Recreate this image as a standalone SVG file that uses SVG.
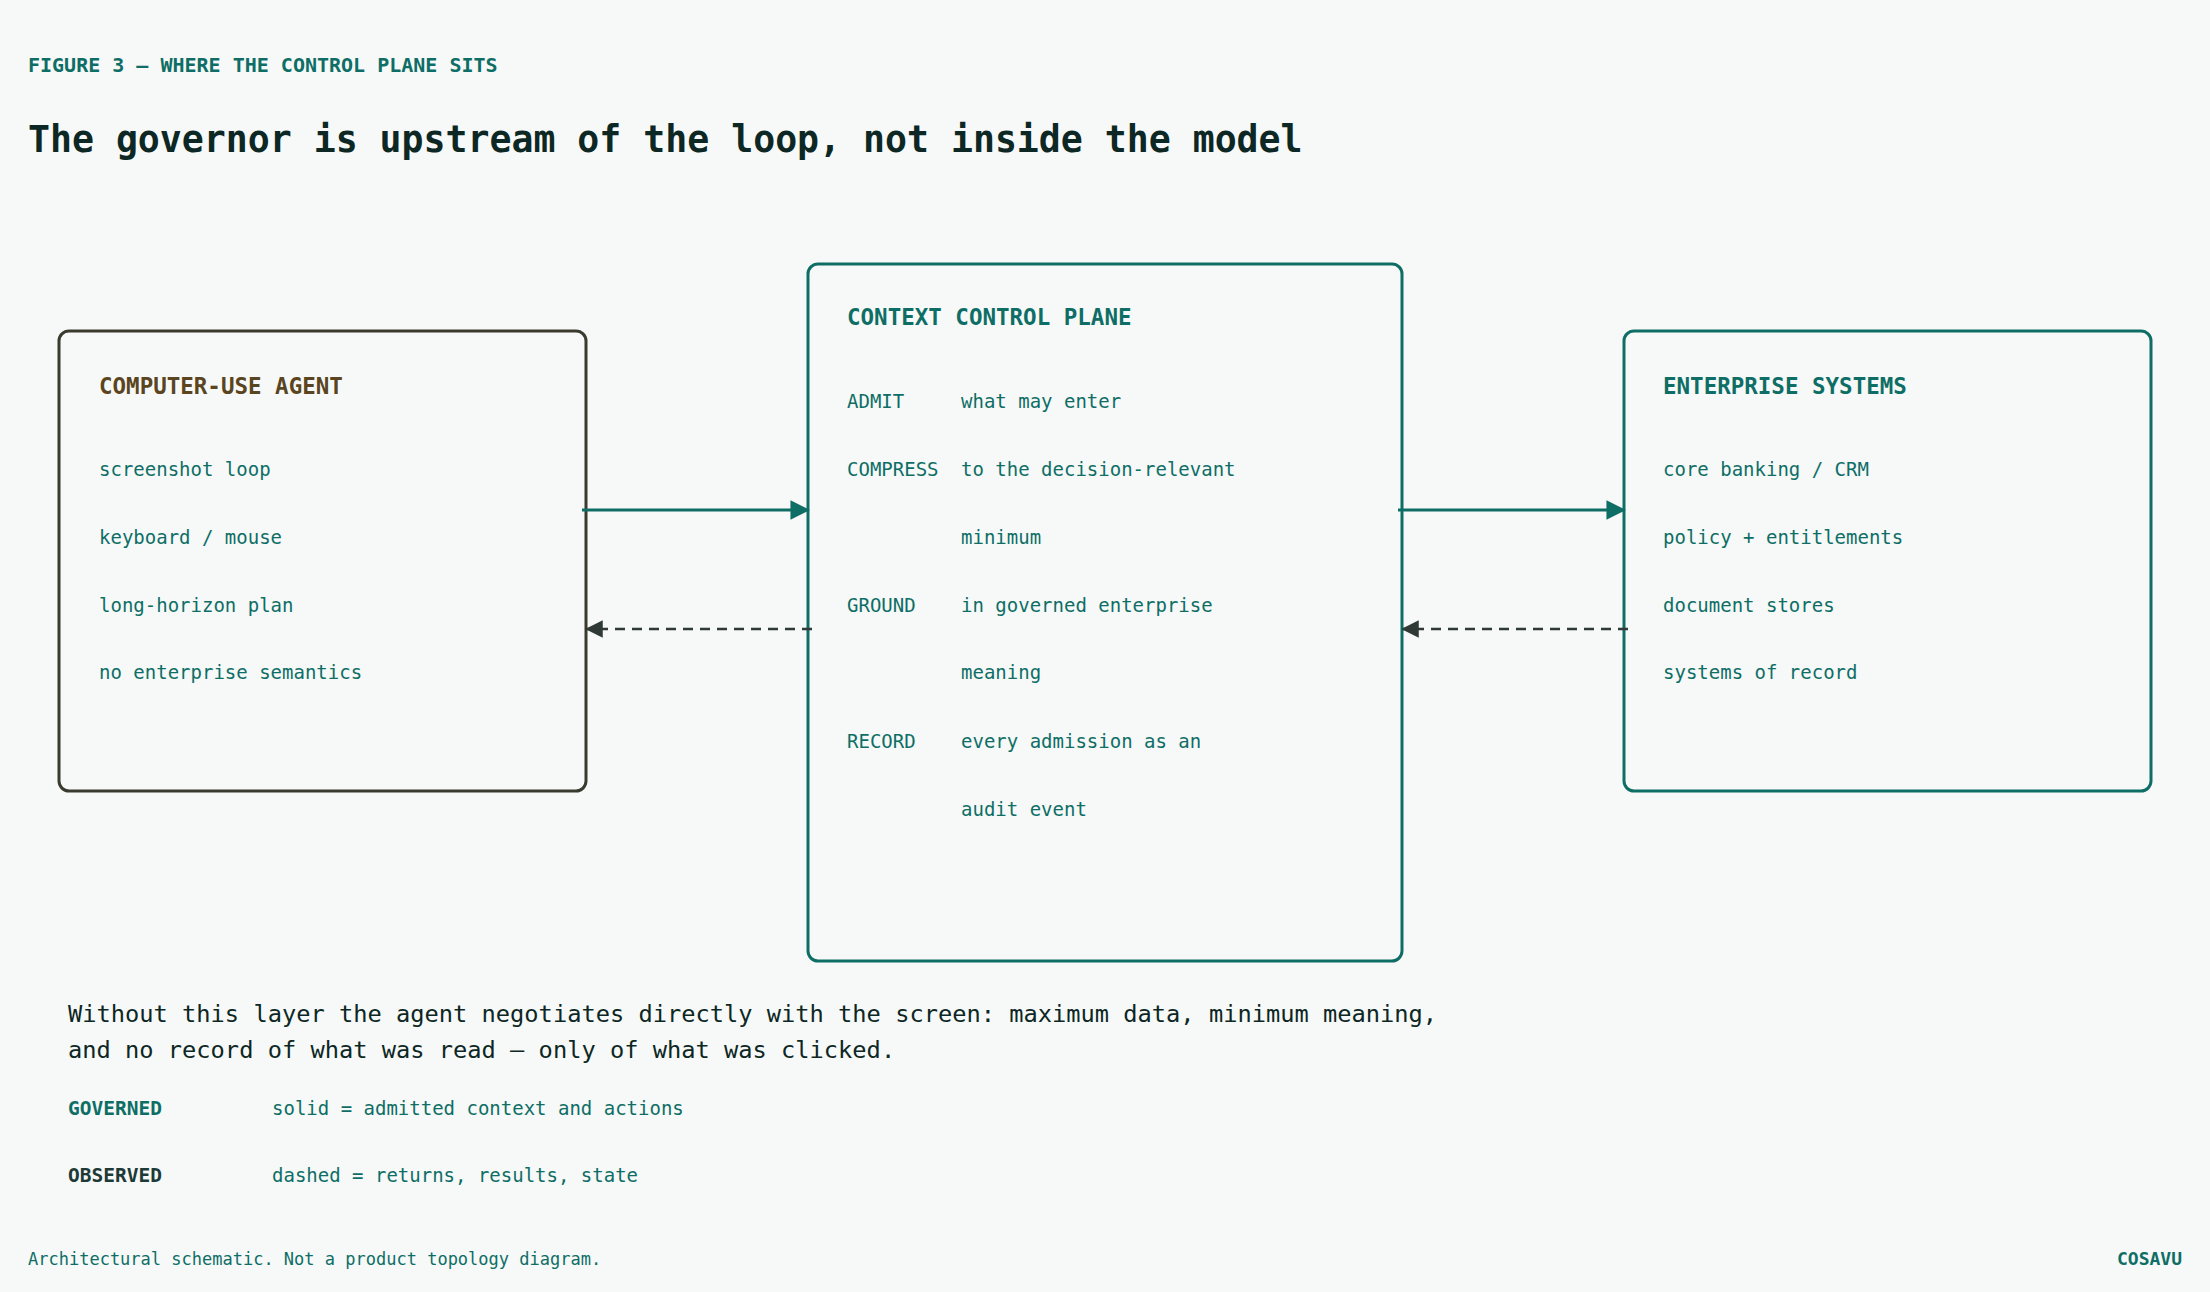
<svg xmlns="http://www.w3.org/2000/svg" width="2210" height="1292" viewBox="0 0 2210 1292">
<style>
text{font-family:"DejaVu Sans Mono","Liberation Mono",monospace;fill:#0e6e66}
.it{font-size:19px}
.hd{font-size:22.5px;font-weight:bold}
.box{fill:none;stroke-width:3}
</style>
<defs>
<marker id="ahd" viewBox="0 0 10 10" refX="9" refY="5" markerWidth="7" markerHeight="7" orient="auto"><path d="M0,0L10,5L0,10z" fill="#2f3a36"/></marker>
<marker id="as" viewBox="0 0 10 10" refX="9" refY="5" markerWidth="6.5" markerHeight="6.5" orient="auto"><path d="M0,0L10,5L0,10z" fill="#0e6e66"/></marker>
</defs>
<rect width="2210" height="1292" fill="#f6f9f8"/>
<text x="28" y="72" style="font-size:20px;font-weight:bold">FIGURE 3 — WHERE THE CONTROL PLANE SITS</text>
<text x="28" y="152" style="font-size:36.5px;font-weight:bold;fill:#0d2724">The governor is upstream of the loop, not inside the model</text>
<g id="agent">
<rect class="box" x="59" y="331" width="527" height="460" rx="10" stroke="#3a3a2e"/>
<text class="hd" x="99" y="394" style="fill:#5a4520">COMPUTER-USE AGENT</text>
<text class="it" x="99" y="476">screenshot loop</text>
<text class="it" x="99" y="544">keyboard / mouse</text>
<text class="it" x="99" y="612">long-horizon plan</text>
<text class="it" x="99" y="679">no enterprise semantics</text>
</g>
<g id="plane">
<rect class="box" x="808" y="264" width="594" height="697" rx="10" stroke="#0e6e66"/>
<text class="hd" x="847" y="325">CONTEXT CONTROL PLANE</text>
<text class="it" x="847" y="408">ADMIT</text><text class="it" x="961" y="408">what may enter</text>
<text class="it" x="847" y="476">COMPRESS</text><text class="it" x="961" y="476">to the decision-relevant</text>
<text class="it" x="961" y="544">minimum</text>
<text class="it" x="847" y="612">GROUND</text><text class="it" x="961" y="612">in governed enterprise</text>
<text class="it" x="961" y="679">meaning</text>
<text class="it" x="847" y="748">RECORD</text><text class="it" x="961" y="748">every admission as an</text>
<text class="it" x="961" y="816">audit event</text>
</g>
<g id="enterprise">
<rect class="box" x="1624" y="331" width="527" height="460" rx="10" stroke="#0e6e66"/>
<text class="hd" x="1663" y="394">ENTERPRISE SYSTEMS</text>
<text class="it" x="1663" y="476">core banking / CRM</text>
<text class="it" x="1663" y="544">policy + entitlements</text>
<text class="it" x="1663" y="612">document stores</text>
<text class="it" x="1663" y="679">systems of record</text>
</g>
<g id="connectors" fill="none" stroke-width="3">
<line x1="582" y1="510" x2="808" y2="510" stroke="#0e6e66" marker-end="url(#as)"/>
<line x1="1398" y1="510" x2="1624" y2="510" stroke="#0e6e66" marker-end="url(#as)"/>
<line x1="812" y1="629" x2="587" y2="629" stroke="#2f3a36" stroke-width="2.5" stroke-dasharray="10,7" marker-end="url(#ahd)"/>
<line x1="1628" y1="629" x2="1403" y2="629" stroke="#2f3a36" stroke-width="2.5" stroke-dasharray="10,7" marker-end="url(#ahd)"/>
</g>
<text x="68" y="1022" style="font-size:23.7px;fill:#0d2724">Without this layer the agent negotiates directly with the screen: maximum data, minimum meaning,</text>
<text x="68" y="1058" style="font-size:23.7px;fill:#0d2724">and no record of what was read — only of what was clicked.</text>
<text x="68" y="1115" style="font-size:19.5px;font-weight:bold">GOVERNED</text>
<text class="it" x="272" y="1115">solid = admitted context and actions</text>
<text x="68" y="1182" style="font-size:19.5px;font-weight:bold;fill:#1d3a36">OBSERVED</text>
<text class="it" x="272" y="1182">dashed = returns, results, state</text>
<text x="28" y="1265" style="font-size:17px">Architectural schematic. Not a product topology diagram.</text>
<text x="2182" y="1265" text-anchor="end" style="font-size:18px;font-weight:bold">COSAVU</text>
</svg>
